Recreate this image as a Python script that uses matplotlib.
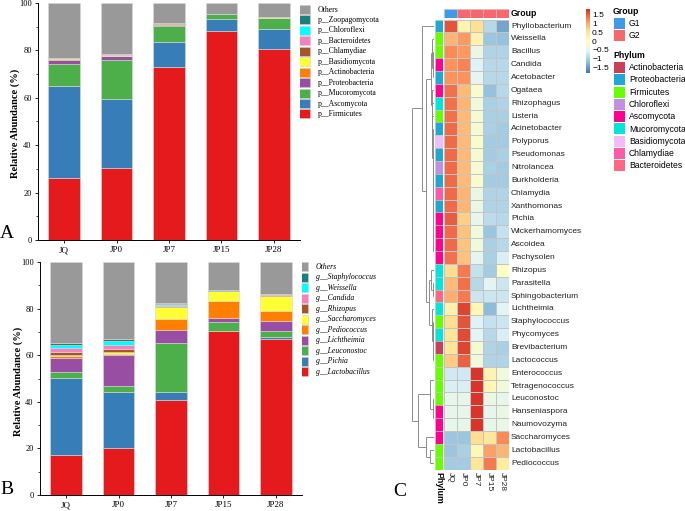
import numpy as np
import matplotlib
matplotlib.use('Agg')
import matplotlib.pyplot as plt
from matplotlib.patches import Rectangle
from matplotlib.colors import LinearSegmentedColormap, Normalize

W, H = 685, 511
SERIF = ['Liberation Serif', 'DejaVu Serif']
SANS = ['Liberation Sans', 'DejaVu Sans']

samples = ['JQ', 'JP0', 'JP7', 'JP15', 'JP28']

# ---------------- Panel A : phylum level ----------------
phyla = ['p__Firmicutes', 'p__Ascomycota', 'p__Mucoromycota', 'p__Proteobacteria',
         'p__Actinobacteria', 'p__Basidiomycota', 'p__Chlamydiae', 'p__Bacteroidetes',
         'p__Chloroflexi', 'p__Zoopagomycota', 'Others']
p_firmicutes = [26.1, 30.3, 73.0, 88.3, 80.6]
p_ascomycota = [39.0, 29.1, 10.7, 5.1, 8.4]
p_mucoromycota = [9.3, 16.7, 6.7, 1.8, 4.5]
p_proteobacteria = [1.7, 1.4, 0.4, 0.1, 0.1]
p_actinobacteria = [0.3, 0.3, 0.3, 0.1, 0.2]
p_basidiomycota = [0.2, 0.3, 0.2, 0.1, 0.1]
p_chlamydiae = [0.1, 0.1, 0.1, 0.0, 0.1]
p_bacteroidetes = [0.1, 0.1, 0.1, 0.0, 0.0]
p_chloroflexi = [0.1, 0.2, 0.1, 0.0, 0.0]
p_zoopagomycota = [0.1, 0.1, 0.0, 0.0, 0.0]
p_others = [23.0, 21.4, 8.4, 4.5, 6.0]
phylum_values = [p_firmicutes, p_ascomycota, p_mucoromycota, p_proteobacteria,
                 p_actinobacteria, p_basidiomycota, p_chlamydiae, p_bacteroidetes,
                 p_chloroflexi, p_zoopagomycota, p_others]

# ---------------- Panel B : genus level ----------------
genera = ['g__Lactobacillus', 'g__Pichia', 'g__Leuconostoc', 'g__Lichtheimia',
          'g__Pediococcus', 'g__Saccharomyces', 'g__Rhizopus', 'g__Candida',
          'g__Weissella', 'g__Staphylococcus', 'Others']
g_lactobacillus = [17.2, 20.3, 40.8, 70.2, 66.9]
g_pichia = [32.9, 24.1, 3.2, 0.3, 0.7]
g_leuconostoc = [2.5, 2.4, 21.2, 3.7, 2.9]
g_lichtheimia = [6.4, 13.1, 5.7, 1.7, 4.0]
g_pediococcus = [0.7, 0.8, 4.7, 7.2, 4.3]
g_saccharomyces = [0.5, 0.5, 5.3, 4.3, 6.4]
g_rhizopus = [1.1, 1.6, 0.3, 0.1, 0.8]
g_candida = [1.7, 1.7, 0.3, 0.1, 0.1]
g_weissella = [1.5, 1.4, 0.5, 0.1, 0.1]
g_staphylococcus = [0.7, 1.0, 0.3, 0.1, 0.2]
g_others = [34.8, 33.1, 17.7, 12.2, 13.6]
genus_values = [g_lactobacillus, g_pichia, g_leuconostoc, g_lichtheimia, g_pediococcus,
                g_saccharomyces, g_rhizopus, g_candida, g_weissella, g_staphylococcus,
                g_others]

stack_colors = ['#E41A1C', '#377EB8', '#4DAF4A', '#984EA3', '#FF7F00', '#FFFF33',
                '#A65628', '#F781BF', '#00FFFF', '#1B807D', '#999999']

# ---------------- Panel C : heatmap ----------------
taxa = ['Phyllobacterium', 'Weissella', 'Bacillus', 'Candida', 'Acetobacter', 'Ogataea',
        'Rhizophagus', 'Listeria', 'Acinetobacter', 'Polyporus', 'Pseudomonas',
        'Nitrolancea', 'Burkholderia', 'Chlamydia', 'Xanthomonas', 'Pichia',
        'Wickerhamomyces', 'Ascoidea', 'Pachysolen', 'Rhizopus', 'Parasitella',
        'Sphingobacterium', 'Lichtheimia', 'Staphylococcus', 'Phycomyces',
        'Brevibacterium', 'Lactococcus', 'Enterococcus', 'Tetragenococcus',
        'Leuconostoc', 'Hanseniaspora', 'Naumovozyma', 'Saccharomyces',
        'Lactobacillus', 'Pediococcus']
taxa_phylum = ['Proteobacteria', 'Firmicutes', 'Firmicutes', 'Ascomycota', 'Proteobacteria',
               'Ascomycota', 'Mucoromycota', 'Firmicutes', 'Proteobacteria', 'Basidiomycota',
               'Proteobacteria', 'Chloroflexi', 'Proteobacteria', 'Chlamydiae',
               'Proteobacteria', 'Ascomycota', 'Ascomycota', 'Ascomycota', 'Ascomycota',
               'Mucoromycota', 'Mucoromycota', 'Bacteroidetes', 'Mucoromycota',
               'Firmicutes', 'Mucoromycota', 'Actinobacteria', 'Firmicutes', 'Firmicutes',
               'Firmicutes', 'Firmicutes', 'Ascomycota', 'Ascomycota', 'Ascomycota',
               'Firmicutes', 'Firmicutes']
z_JQ = [1.55, 0.9, 1.2, 1.15, 1.15, 1.35, 1.35, 1.35, 1.4, 1.4, 1.4, 1.4, 1.4, 1.4, 1.4,
        1.5, 1.4, 1.4, 1.35, 0.6, 0.85, 0.95, 0.25, 0.6, 0.5, 0.5, 0.75,
        -0.7, -0.65, -0.45, -0.45, -0.45, -1.1, -1.1, -1.05]
z_JP0 = [0.2, 1.1, 1.1, 1.25, 1.15, 0.85, 0.9, 0.85, 0.85, 0.85, 0.85, 0.85, 0.85, 0.9, 0.9,
         0.7, 0.8, 0.8, 0.8, 1.3, 1.35, 1.3, 1.65, 1.55, 1.6, 1.65, 1.45,
         -0.7, -0.65, -0.45, -0.45, -0.45, -1.1, -1.0, -1.05]
z_JP7 = [0.55, 0.25, -0.4, -0.6, -0.5, -0.15, -0.3, -0.2, -0.2, -0.15, -0.2, -0.2, -0.15,
         -0.4, -0.4, -0.45, -0.3, -0.3, -0.5, -0.8, -0.9, -0.75, 0.15, -0.6, -0.55, -0.2,
         -0.3, 1.75, 1.75, 1.75, 1.75, 1.75, 0.6, 0.15, 0.5]
z_JP15 = [-0.9, -1.1, -0.95, -0.9, -0.9, -1.15, -1.0, -1.0, -1.0, -1.05, -1.05, -1.0, -1.05,
          -0.95, -0.95, -0.85, -1.1, -1.0, -1.0, -1.05, -0.55, -0.75, -1.2, -0.8, -0.9,
          -0.95, -0.95, 0.2, 0.15, -0.4, -0.45, -0.45, 0.45, 1.05, 1.3]
z_JP28 = [-1.4, -1.15, -0.95, -0.9, -0.9, -0.9, -0.95, -1.0, -1.05, -1.05, -1.0, -1.05,
          -1.05, -0.95, -0.95, -0.9, -0.8, -0.9, -0.65, -0.05, -0.75, -0.75, -0.55, -0.75,
          -0.65, -1.0, -0.95, -0.3, -0.3, -0.45, -0.4, -0.4, 1.2, 0.9, 0.35]
sample_group = ['G1', 'G2', 'G2', 'G2', 'G2']
group_names = ['G1', 'G2']
group_colors = ['#3D9BEA', '#F8676D']
phylum_names = ['Actinobacteria', 'Proteobacteria', 'Firmicutes', 'Chloroflexi', 'Ascomycota',
                'Mucoromycota', 'Basidiomycota', 'Chlamydiae', 'Bacteroidetes']
phylum_colors = ['#CC3D58', '#1EA8D5', '#66FF00', '#BE91E3', '#FF0090', '#00E6DA',
                 '#F4BBFB', '#FF59A8', '#FF6682']

# clustering tree of rows: (left, right, height); leaves are row indices
row_tree = (
    (0,
     (((1, ((2, 3, 0.8), 4, 1.2), 2.5),
       (5, (6, (7, (8, (((9, 10, 0.3), (11, 12, 0.3), 0.5),
                        ((13, 14, 0.5), (15, (16, (17, 18, 0.4), 0.6), 0.8), 1.0), 1.2),
                    1.5), 1.8), 2.1), 2.5), 3.5),
      ((19, (20, 21, 1.0), 3.0),
       (22, ((23, 24, 0.8), (25, 26, 1.0), 1.5), 2.5), 5.5), 8.5),
     12.0),
    (((27, 28, 0.5), (29, (30, 31, 0.4), 0.8), 4.0),
     (32, (33, 34, 4.0), 8.0), 16.0),
    22.0)

cmap = LinearSegmentedColormap.from_list(
    'rdylbu_r', ['#4575B4', '#91BFDB', '#E0F3F8', '#FFFFBF', '#FEE090', '#FC8D59', '#D73027'])
norm = Normalize(vmin=-1.78, vmax=1.78)

# ---------------- figure ----------------
fig = plt.figure(figsize=(W / 100, H / 100), dpi=100)


def px_axes(x0, y0, x1, y1):
    return fig.add_axes([x0 / W, 1 - y1 / H, (x1 - x0) / W, (y1 - y0) / H])


ov = px_axes(0, 0, W, H)
ov.set_xlim(0, W)
ov.set_ylim(H, 0)
ov.axis('off')
ov.set_zorder(-1)


def bar_panel(box, values, names, ylab_xy, leg_x, leg_y0, italic):
    ax = px_axes(*box)
    x = np.arange(len(samples))
    bottom = np.zeros(len(samples))
    for vals, col in zip(values, stack_colors):
        ax.bar(x, vals, width=0.6, bottom=bottom, color=col, edgecolor='#d8d8d8',
               linewidth=0.4)
        bottom += np.array(vals)
    ax.set_xlim(-0.5, 4.5)
    ax.set_ylim(0, 100)
    ax.set_xticks(x)
    ax.set_xticklabels(samples, fontfamily=SERIF, fontsize=6.5)
    ax.set_yticks(np.arange(0, 101, 20))
    ax.set_yticks(np.arange(10, 100, 20), minor=True)
    ax.set_yticklabels([str(v) for v in range(0, 101, 20)], fontfamily=SERIF, fontsize=6)
    ax.tick_params(axis='both', which='major', length=2.5, width=0.6, pad=2)
    ax.tick_params(axis='y', which='minor', length=1.5, width=0.5)
    for s in ['top', 'right']:
        ax.spines[s].set_visible(False)
    for s in ['left', 'bottom']:
        ax.spines[s].set_linewidth(0.7)
    ov.text(ylab_xy[0], ylab_xy[1], 'Relative Abundance (%)', rotation=90, ha='center',
            va='center', fontfamily=SERIF, fontweight='bold', fontsize=7.5)
    # legend: top = Others, then reversed stacking order
    order = list(range(len(names)))[::-1]
    for k, idx in enumerate(order):
        yc = leg_y0 + k * 10.45
        ov.add_patch(Rectangle((leg_x, yc - 4.5), 11, 9, facecolor=stack_colors[idx],
                               edgecolor='#cccccc', linewidth=0.4))
        ov.text(leg_x + 19, yc, names[idx], ha='left', va='center', fontfamily=SERIF,
                fontsize=5.6, style='italic' if italic else 'normal')
    return ax


bar_panel((38, 3, 300, 240), phylum_values, phyla, (15, 123), 299, 9.5, False)
bar_panel((40, 262, 302, 495), genus_values, genera, (18, 381), 297, 267, True)

ov.text(7, 233, 'A', ha='center', va='center', fontfamily=SERIF, fontsize=14)
ov.text(7, 490, 'B', ha='center', va='center', fontfamily=SERIF, fontsize=14)
ov.text(400, 492, 'C', ha='center', va='center', fontfamily=SERIF, fontsize=14)

# ---------------- heatmap ----------------
nrow = len(taxa)
top_y, bot_y = 19.6, 469.6
hx0, hx1 = 444, 509
Z = np.array([z_JQ, z_JP0, z_JP7, z_JP15, z_JP28]).T
hax = px_axes(hx0, top_y, hx1, bot_y)
hax.pcolormesh(np.arange(len(samples) + 1), np.arange(nrow + 1), Z, cmap=cmap, norm=norm,
               edgecolors='#c4c4c4', linewidth=0.5)
hax.set_xlim(0, len(samples))
hax.set_ylim(nrow, 0)
hax.axis('off')
row_h = (bot_y - top_y) / nrow
for i, name in enumerate(taxa):
    ov.text(511, top_y + (i + 0.5) * row_h, name, ha='left', va='center', fontfamily=SANS,
            fontsize=6.0, color='#222222')
col_w = (hx1 - hx0) / len(samples)
for j, s in enumerate(samples):
    ov.text(hx0 + (j + 0.5) * col_w, bot_y + 2.5, s, rotation=270, ha='center', va='top',
            fontfamily=SANS, fontsize=6.0, color='#222222')

# group annotation row
gax = px_axes(hx0, 9.3, hx1, 18.5)
gcol = [group_colors[group_names.index(g)] for g in sample_group]
for j, c in enumerate(gcol):
    gax.add_patch(Rectangle((j, 0), 1, 1, facecolor=c, edgecolor='#c4c4c4', linewidth=0.4))
gax.set_xlim(0, len(samples))
gax.set_ylim(0, 1)
gax.axis('off')
ov.text(511, 14, 'Group', ha='left', va='center', fontfamily=SANS, fontsize=6.3,
        fontweight='bold')

# phylum annotation column
pax = px_axes(435, top_y, 443, bot_y)
for i, ph in enumerate(taxa_phylum):
    pax.add_patch(Rectangle((0, i), 1, 1, facecolor=phylum_colors[phylum_names.index(ph)],
                            edgecolor='#c4c4c4', linewidth=0.4))
pax.set_xlim(0, 1)
pax.set_ylim(nrow, 0)
pax.axis('off')
ov.text(439, bot_y + 2.5, 'Phylum', rotation=270, ha='center', va='top', fontfamily=SANS,
        fontsize=6.3, fontweight='bold')

# dendrogram
dax = px_axes(410, top_y, 434, bot_y)


def draw_tree(node):
    if isinstance(node, int):
        return node + 0.5, 0.0
    l, r, h = node
    pl, hl = draw_tree(l)
    pr, hr = draw_tree(r)
    kw = dict(color='#8c8c8c', linewidth=0.7, solid_capstyle='butt')
    dax.plot([hl, h], [pl, pl], **kw)
    dax.plot([hr, h], [pr, pr], **kw)
    dax.plot([h, h], [pl, pr], **kw)
    return (pl + pr) / 2, h


draw_tree(row_tree)
dax.set_xlim(24, 0)
dax.set_ylim(nrow, 0)
dax.axis('off')

# colour bar
cax = px_axes(586, 9, 590, 73)
grad = np.linspace(-1.78, 1.78, 200).reshape(-1, 1)
cax.imshow(grad, aspect='auto', cmap=cmap, norm=norm, origin='lower',
           extent=[0, 1, -1.78, 1.78])
cax.set_xlim(0, 1)
cax.set_ylim(-1.78, 1.78)
cax.set_xticks([])
cb_ticks = [1.5, 1, 0.5, 0, -0.5, -1, -1.5]
cax.yaxis.tick_right()
cax.set_yticks(cb_ticks)
cax.set_yticklabels(['1.5', '1', '0.5', '0', '\u22120.5', '\u22121', '\u22121.5'],
                    fontfamily=SANS, fontsize=6.0)
cax.tick_params(axis='y', length=0, pad=1.5)
for s in cax.spines.values():
    s.set_visible(False)

# legends for annotations
ov.text(613, 12, 'Group', ha='left', va='center', fontfamily=SANS, fontsize=6.3,
        fontweight='bold')
for k, (gname, gc) in enumerate(zip(group_names, group_colors)):
    yc = 23.5 + k * 12
    ov.add_patch(Rectangle((614, yc - 5.5), 11, 11, facecolor=gc, edgecolor='none'))
    ov.text(629, yc, gname, ha='left', va='center', fontfamily=SANS, fontsize=6.2)
ov.text(613, 55, 'Phylum', ha='left', va='center', fontfamily=SANS, fontsize=6.3,
        fontweight='bold')
for k, (pname, pc) in enumerate(zip(phylum_names, phylum_colors)):
    yc = 67.5 + k * 12.3
    ov.add_patch(Rectangle((614, yc - 5.5), 11, 11, facecolor=pc, edgecolor='none'))
    ov.text(629, yc, pname, ha='left', va='center', fontfamily=SANS, fontsize=6.2)

fig.savefig('out.png', dpi=100)
